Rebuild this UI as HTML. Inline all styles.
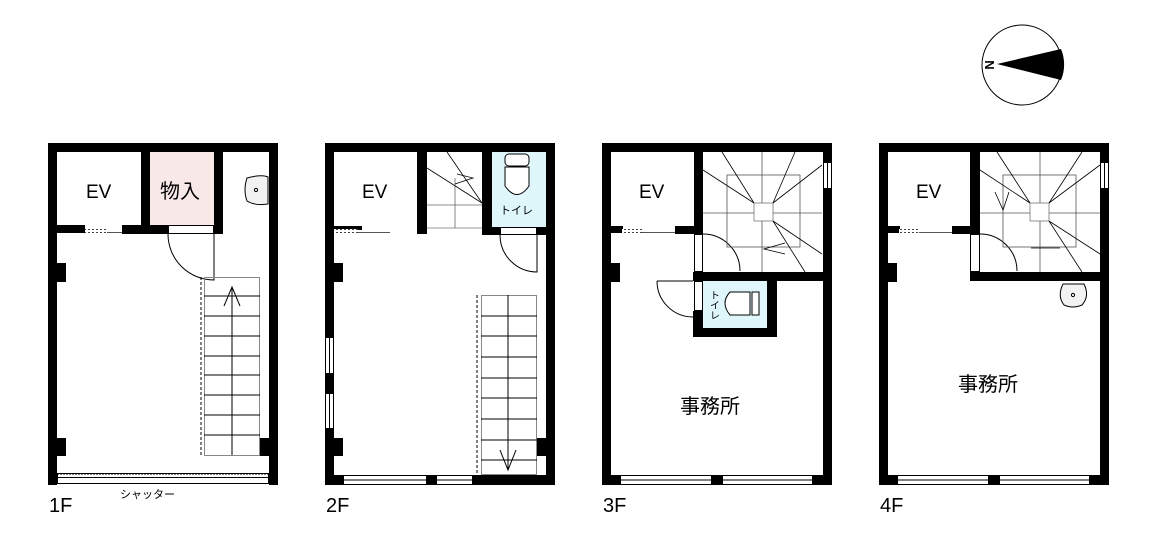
<!DOCTYPE html>
<html><head><meta charset="utf-8"><style>
html,body{margin:0;padding:0;background:#fff;}
svg{display:block;}
text{font-family:"Liberation Sans","Noto Sans CJK JP",sans-serif;fill:#000;}
</style></head><body>
<svg width="1162" height="537" viewBox="0 0 1162 537" xmlns="http://www.w3.org/2000/svg">
<defs>
<pattern id="dots" width="4" height="4" patternUnits="userSpaceOnUse"><rect width="4" height="4" fill="#fff"/><rect width="2" height="2" fill="#444"/></pattern>
</defs>

<!-- Compass -->
<circle cx="1022" cy="65" r="40" fill="#fff" stroke="#000" stroke-width="1"/>
<path d="M997 64 L1061 49 A40 40 0 0 1 1061 80 Z" fill="#000"/>
<text x="990" y="65" font-size="13" font-weight="bold" text-anchor="middle" transform="rotate(90 990 65)" dy="5">N</text>

<!-- ========== 1F ========== -->
<g>
<rect x="150" y="152" width="64" height="74" fill="#f9e8e8"/>
<rect x="48" y="143" width="230" height="9"/>
<rect x="48" y="143" width="9" height="342"/>
<rect x="269" y="143" width="9" height="342"/>
<rect x="141" y="152" width="9" height="82"/>
<rect x="214" y="152" width="9" height="82"/>
<rect x="57" y="225" width="28" height="8"/>
<rect x="85" y="229" width="22" height="4" fill="url(#dots)"/>
<line x1="107" y1="232.5" x2="122" y2="232.5" stroke="#555"/>
<rect x="122" y="225" width="46" height="9"/>
<rect x="168.5" y="225.5" width="45" height="8" fill="#fff" stroke="#000"/>
<path d="M168 234 A46 46 0 0 0 214 280 L214 234" fill="none" stroke="#000"/>
<rect x="48" y="263" width="18" height="19"/>
<rect x="48" y="438" width="18" height="18"/>
<rect x="260" y="438" width="18" height="18"/>
<g stroke="#000" stroke-width="1" fill="none">
<rect x="204.5" y="277.5" width="55" height="178" stroke="#888"/>
<line x1="201" y1="277" x2="201" y2="455" stroke-dasharray="3,2"/>
<line x1="204" y1="296" x2="260" y2="296"/><line x1="204" y1="316" x2="260" y2="316"/>
<line x1="204" y1="336" x2="260" y2="336"/><line x1="204" y1="356" x2="260" y2="356"/>
<line x1="204" y1="375" x2="260" y2="375"/><line x1="204" y1="395" x2="260" y2="395"/>
<line x1="204" y1="415" x2="260" y2="415"/><line x1="204" y1="435" x2="260" y2="435"/>
<line x1="232" y1="288" x2="232" y2="455"/>
<polyline points="224,306 232,287 240,306"/>
</g>
<path d="M247 178 Q262 174 268 177 L268 204 Q255 206 247 201 Q243 190 247 178 Z" fill="#f2f2f2" stroke="#000"/>
<circle cx="256" cy="190" r="1.6" fill="none" stroke="#000"/>
<rect x="57.5" y="473.5" width="211" height="10" fill="#fff" stroke="#000"/>
<line x1="57" y1="474" x2="269" y2="474" stroke="#000" stroke-dasharray="2,1"/>
<line x1="57" y1="477.5" x2="269" y2="477.5" stroke="#000"/>
<text x="86" y="198" font-size="19">EV</text>
<text x="160" y="198" font-size="20">物入</text>
<text x="49" y="512" font-size="20">1F</text>
<text x="120" y="498" font-size="11">シャッター</text>
</g>

<!-- ========== 2F ========== -->
<g>
<rect x="492" y="152" width="54" height="75" fill="#dff7fb"/>
<rect x="325" y="143" width="230" height="9"/>
<rect x="325" y="143" width="9" height="342"/>
<rect x="546" y="143" width="9" height="342"/>
<rect x="325" y="475" width="230" height="10"/>
<rect x="417" y="152" width="10" height="82"/>
<rect x="482" y="152" width="10" height="82"/>
<rect x="334" y="226" width="28" height="4"/>
<rect x="334" y="229" width="24" height="4" fill="url(#dots)"/>
<line x1="358" y1="232.5" x2="390" y2="232.5" stroke="#555"/>
<line x1="427" y1="228" x2="482" y2="228" stroke="#999"/>
<rect x="482" y="227" width="18" height="8"/><rect x="537" y="227" width="18" height="8"/>
<rect x="500.5" y="227.5" width="36" height="7" fill="#fff" stroke="#000"/>
<path d="M500 235 A37 37 0 0 0 537 272 L537 235" fill="none" stroke="#000"/>
<rect x="325" y="263" width="18" height="19"/>
<rect x="325" y="438" width="18" height="18"/>
<rect x="537" y="438" width="18" height="18"/>
<g fill="#fff" stroke="#000">
<rect x="325.5" y="337.5" width="8" height="36"/><line x1="329.5" y1="337" x2="329.5" y2="374"/>
<rect x="325.5" y="393.5" width="8" height="35"/><line x1="329.5" y1="393" x2="329.5" y2="429"/>
<rect x="343.5" y="475.5" width="83" height="9"/><line x1="343" y1="480" x2="427" y2="480"/>
<rect x="436.5" y="475.5" width="36" height="9"/><line x1="436" y1="480" x2="473" y2="480"/>
</g>
<g stroke="#000" fill="none" stroke-width="0.8">
<line x1="427" y1="205" x2="482" y2="205" stroke="#666"/>
<line x1="455" y1="178" x2="455" y2="228" stroke="#666"/>
<line x1="427" y1="168" x2="482" y2="203"/>
<line x1="447" y1="152" x2="482" y2="203"/>
<polyline points="455,184 473,178 457,174"/>
</g>
<rect x="505" y="154" width="24" height="12" rx="4" fill="#fff" stroke="#000"/>
<path d="M505 167 L529 167 L529 186 Q517 203 505 186 Z" fill="#fff" stroke="#000"/>
<text x="500" y="214" font-size="11">トイレ</text>
<g stroke="#000" fill="none" stroke-width="1">
<rect x="481.5" y="295.5" width="55" height="179" stroke="#888"/>
<line x1="477" y1="295" x2="477" y2="474" stroke-dasharray="3,2"/>
<line x1="481" y1="316" x2="537" y2="316"/><line x1="481" y1="336" x2="537" y2="336"/>
<line x1="481" y1="357" x2="537" y2="357"/><line x1="481" y1="378" x2="537" y2="378"/>
<line x1="481" y1="398" x2="537" y2="398"/><line x1="481" y1="419" x2="537" y2="419"/>
<line x1="481" y1="440" x2="537" y2="440"/><line x1="481" y1="460" x2="537" y2="460"/>
<line x1="508" y1="295" x2="508" y2="470"/>
<polyline points="500,450 508,470 516,450"/>
</g>
<text x="362" y="198" font-size="19">EV</text>
<text x="326" y="512" font-size="20">2F</text>
</g>

<!-- ========== 3F ========== -->
<g>
<rect x="703" y="281" width="64" height="50" fill="#dff7fb"/>
<rect x="602" y="143" width="230" height="9"/>
<rect x="602" y="143" width="9" height="342"/>
<rect x="823" y="143" width="9" height="342"/>
<rect x="602" y="475" width="230" height="10"/>
<rect x="694" y="152" width="9" height="82"/>
<rect x="611" y="226" width="12" height="7"/>
<rect x="622" y="229" width="20" height="4" fill="url(#dots)"/>
<line x1="642" y1="232.5" x2="675" y2="232.5" stroke="#555"/>
<rect x="675" y="226" width="28" height="8"/>
<rect x="693" y="272" width="139" height="9"/>
<rect x="693" y="311" width="10" height="26"/>
<rect x="693" y="328" width="83" height="9"/>
<rect x="767" y="281" width="10" height="56"/>
<rect x="602" y="263" width="18" height="19"/>
<g fill="#fff" stroke="#000">
<rect x="694.5" y="234.5" width="8" height="37"/>
<rect x="694.5" y="281.5" width="8" height="29"/>
<rect x="823.5" y="162.5" width="8" height="26"/><line x1="827.5" y1="162" x2="827.5" y2="189"/>
<rect x="620.5" y="475.5" width="91" height="9"/><line x1="620" y1="480" x2="712" y2="480"/>
<rect x="722.5" y="475.5" width="90" height="9"/><line x1="722" y1="480" x2="813" y2="480"/>
</g>
<path d="M703 234 A37 37 0 0 1 740 271" fill="none" stroke="#000"/>
<path d="M657 281 A36 36 0 0 0 693 317" fill="none" stroke="#000"/>
<line x1="657" y1="281" x2="693" y2="281" stroke="#000"/>
<g stroke="#000" fill="none" stroke-width="0.8">
<rect x="727" y="175" width="73" height="72" stroke="#555"/>
<rect x="754" y="203" width="19" height="18" fill="#fff" stroke="#777"/>
<line x1="703" y1="213" x2="754" y2="213" stroke="#555"/><line x1="773" y1="213" x2="822" y2="213" stroke="#555"/>
<line x1="762" y1="152" x2="762" y2="203" stroke="#555"/><line x1="762" y1="221" x2="762" y2="272" stroke="#555"/>
<line x1="703" y1="170" x2="754" y2="203"/><line x1="722" y1="152" x2="754" y2="203"/>
<line x1="795" y1="152" x2="773" y2="203"/><line x1="822" y1="165" x2="773" y2="203"/>
<line x1="773" y1="221" x2="822" y2="254"/><line x1="773" y1="221" x2="805" y2="272"/>
<polyline points="785,243 764,249 785,254"/>
</g>
<path d="M750 292 L730 292 Q720 303 730 315 L750 315 Z" fill="#fff" stroke="#000"/>
<rect x="752" y="292" width="7" height="23" fill="#fff" stroke="#000"/>
<text x="713" y="290" font-size="10" writing-mode="tb">トイレ</text>
<text x="639" y="198" font-size="19">EV</text>
<text x="680" y="413" font-size="20">事務所</text>
<text x="603" y="512" font-size="20">3F</text>
</g>

<!-- ========== 4F ========== -->
<g>
<rect x="879" y="143" width="230" height="9"/>
<rect x="879" y="143" width="9" height="342"/>
<rect x="1100" y="143" width="9" height="342"/>
<rect x="879" y="475" width="230" height="10"/>
<rect x="970" y="152" width="10" height="82"/>
<rect x="888" y="226" width="12" height="7"/>
<rect x="899" y="229" width="20" height="4" fill="url(#dots)"/>
<line x1="919" y1="232.5" x2="952" y2="232.5" stroke="#555"/>
<rect x="952" y="226" width="28" height="8"/>
<rect x="970" y="272" width="139" height="9"/>
<rect x="879" y="263" width="18" height="19"/>
<g fill="#fff" stroke="#000">
<rect x="970.5" y="234.5" width="9" height="37"/>
<rect x="1100.5" y="162.5" width="8" height="26"/><line x1="1104.5" y1="162" x2="1104.5" y2="189"/>
<rect x="897.5" y="475.5" width="91" height="9"/><line x1="897" y1="480" x2="989" y2="480"/>
<rect x="999.5" y="475.5" width="90" height="9"/><line x1="999" y1="480" x2="1090" y2="480"/>
</g>
<path d="M980 234 A37 37 0 0 1 1017 271" fill="none" stroke="#000"/>
<g stroke="#000" fill="none" stroke-width="0.8">
<rect x="1003" y="175" width="73" height="72" stroke="#555"/>
<rect x="1030" y="203" width="19" height="18" fill="#fff" stroke="#777"/>
<line x1="980" y1="213" x2="1030" y2="213" stroke="#555"/><line x1="1049" y1="213" x2="1100" y2="213" stroke="#555"/>
<line x1="1040" y1="152" x2="1040" y2="203" stroke="#555"/><line x1="1040" y1="221" x2="1040" y2="272" stroke="#555"/>
<line x1="980" y1="170" x2="1030" y2="203"/><line x1="997" y1="152" x2="1030" y2="203"/>
<line x1="1082" y1="152" x2="1049" y2="203"/><line x1="1100" y1="165" x2="1049" y2="203"/>
<line x1="1049" y1="221" x2="1100" y2="254"/><line x1="1049" y1="221" x2="1082" y2="272"/>
<line x1="1031" y1="248" x2="1060" y2="248"/>
<polyline points="995,192 1003,210 1009,192"/>
</g>
<path d="M1063 284 L1084 284 Q1090 296 1082 305 Q1073 309 1064 305 Q1057 296 1063 284 Z" fill="#f2f2f2" stroke="#000"/>
<circle cx="1073" cy="295" r="1.6" fill="none" stroke="#000"/>
<text x="916" y="198" font-size="19">EV</text>
<text x="958" y="391" font-size="20">事務所</text>
<text x="880" y="512" font-size="20">4F</text>
</g>
</svg>
</body></html>
